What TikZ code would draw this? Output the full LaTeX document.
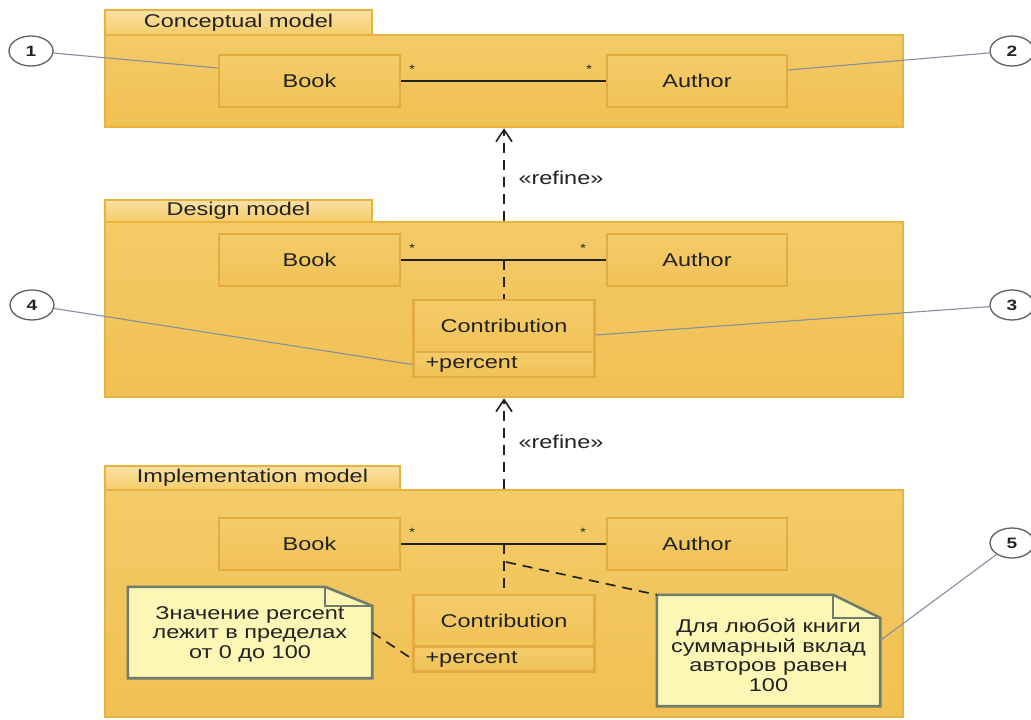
\documentclass[tikz,border=0pt]{standalone}
\usepackage{fontspec}
\setmainfont{Liberation Sans}[FakeStretch=1.27]
\usetikzlibrary{arrows.meta,calc,shapes.geometric}

\definecolor{pkgline}{HTML}{E8B23F}
\definecolor{pkgtop}{HTML}{F4CB68}
\definecolor{pkgmid}{HTML}{FAE2A4}
\definecolor{pkgbot}{HTML}{F0C052}
\definecolor{clsline}{HTML}{E2AC40}
\definecolor{clstop}{HTML}{F4CC6A}
\definecolor{clsmid}{HTML}{FCE8B2}
\definecolor{clsbot}{HTML}{F1C257}
\definecolor{notefill}{HTML}{FDF7B6}
\definecolor{noteline}{HTML}{6F7D6C}
\definecolor{callline}{HTML}{8490A0}
\definecolor{ink}{HTML}{222222}

\tikzset{
  every node/.style={font=\fontsize{18.5}{19.5}\selectfont, text=ink},
  pkgbody/.style={draw=pkgline, line width=2.5pt, top color=pkgtop, middle color=pkgmid,
    bottom color=pkgbot, minimum width=798pt, inner sep=0pt},
  pkgtab/.style={draw=pkgline, line width=2.5pt, top color=pkgmid, bottom color=pkgtop,
    inner sep=0pt},
  clsbox/.style={draw=clsline, line width=2.5pt, top color=clstop, middle color=clsmid,
    bottom color=clsbot, minimum width=181pt, minimum height=52pt, inner sep=0pt},
  attrbox/.style={clsbox, minimum height=25pt, text width=157pt, align=left},
  assoc/.style={draw=ink, line width=1.5pt},
  depline/.style={draw=ink, line width=1.7pt, dash pattern=on 10pt off 7pt},
  refine/.style={depline, -{Straight Barb[length=12pt,width=16pt,line width=1.6pt]}},
  mult/.style={font=\fontsize{12}{12}\selectfont},
  callout/.style={draw=callline, line width=1.1pt},
  marker/.style={ellipse, draw=gray!75!black, line width=1.3pt, fill=white,
    minimum width=44pt, minimum height=30pt, inner sep=0pt,
    font=\fontsize{15}{15}\selectfont\bfseries},
  notebox/.style={minimum width=#1, inner sep=0pt, draw=none},
  notetext/.style={align=center, inner sep=0pt},
  notepath/.style={draw=noteline, line width=2.6pt, fill=notefill, line join=miter}
}

\begin{document}
\begin{tikzpicture}[x=1pt,y=-1pt]
\useasboundingbox[fill=white] (0,0) rectangle (1031,720);

% ---------- Conceptual model ----------
\node[pkgtab, minimum width=267pt, minimum height=25pt] (ctab) at (238.5,22.5) {Conceptual model};
\node[pkgbody, minimum height=92pt] (cpkg) at (504,81) {};
\node[clsbox] (cbook) at (309.5,81) {Book};
\node[clsbox, minimum width=180pt] (cauthor) at (697,81) {Author};
\draw[assoc] (cbook) -- (cauthor);
\node[mult] (cm1) at (412,69) {*};
\node[mult] (cm2) at (589,69) {*};

% ---------- Design model ----------
\node[pkgtab, minimum width=267pt, minimum height=22pt] (dtab) at (238.5,211) {Design model};
\node[pkgbody, minimum height=175pt] (dpkg) at (504,309.5) {};
\node[clsbox] (dbook) at (309.5,260) {Book};
\node[clsbox, minimum width=180pt] (dauthor) at (697,260) {Author};
\draw[assoc] (dbook) -- (dauthor);
\node[mult] (dm1) at (412,248) {*};
\node[mult] (dm2) at (583,248) {*};
\node[clsbox] (dcontr) at (504,326) {Contribution};
\node[attrbox] (dattr) at (504,364.5) {+percent};
\coordinate (dmid) at (dbook.east -| dcontr.north);
\draw[depline] (dmid) -- (dcontr.north);

% ---------- Implementation model ----------
\node[pkgtab, minimum width=295pt, minimum height=24pt] (itab) at (252.5,478) {Implementation model};
\node[pkgbody, minimum height=227pt] (ipkg) at (504,603.5) {};
\node[clsbox] (ibook) at (309.5,544) {Book};
\node[clsbox, minimum width=180pt] (iauthor) at (697,544) {Author};
\draw[assoc] (ibook) -- (iauthor);
\node[mult] (im1) at (412,532) {*};
\node[mult] (im2) at (583,532) {*};
\node[clsbox] (icontr) at (504,621) {Contribution};
\node[attrbox] (iattr) at (504,659) {+percent};
\coordinate (imid) at (ibook.east -| icontr.north);
\draw[depline] (imid) -- (icontr.north);
\coordinate (ibranch) at ($(imid)+(2,18)$);

% notes
\node[notebox=244pt, minimum height=91pt] (n1) at (250,632.5) {};
\draw[notepath] (n1.south west) -- (n1.north west) -- ($(n1.north east)+(-47,0)$)
  -- ($(n1.north east)+(0,19)$) -- (n1.south east) -- cycle;
\draw[draw=noteline, line width=2pt] ($(n1.north east)+(-47,0)$) -- ++(0,19) -- ++(47,0);
\node[notetext] (n1t) at (250,634) {Значение percent\\лежит в пределах\\от 0 до 100};

\node[notebox=223pt, minimum height=111pt] (n2) at (768.5,650.5) {};
\draw[notepath] (n2.south west) -- (n2.north west) -- ($(n2.north east)+(-47,0)$)
  -- ($(n2.north east)+(0,23)$) -- (n2.south east) -- cycle;
\draw[draw=noteline, line width=2pt] ($(n2.north east)+(-47,0)$) -- ++(0,23) -- ++(47,0);
\node[notetext] (n2t) at (768.5,655) {Для любой книги\\суммарный вклад\\авторов равен\\100};

\draw[depline] (n1.east) -- (iattr.west);
\draw[depline] (ibranch) -- (n2.north west);

% ---------- refinement dependencies ----------
\draw[refine] (dpkg.north) -- (cpkg.south);
\node[anchor=west] (r1) at (515,178) {«refine»};
\draw[refine] (ipkg.north) -- (dpkg.south);
\node[anchor=west] (r2) at (515,442) {«refine»};

% ---------- numbered markers ----------
\node[marker] (k1) at (31,51) {1};
\node[marker] (k2) at (1012,51) {2};
\node[marker] (k3) at (1012,305) {3};
\node[marker] (k4) at (32,305) {4};
\node[marker] (k5) at (1012,543) {5};

\draw[callout] (k1) -- ($(cbook.west)+(0,-13)$);
\draw[callout] ($(cauthor.east)+(0,-11)$) -- (k2);
\draw[callout] ($(dcontr.east)+(0,9)$) -- (k3);
\draw[callout] (k4) -- (dattr.west);
\draw[callout] ($(n2.east)+(0,-10)$) -- (k5);
\end{tikzpicture}
\end{document}
